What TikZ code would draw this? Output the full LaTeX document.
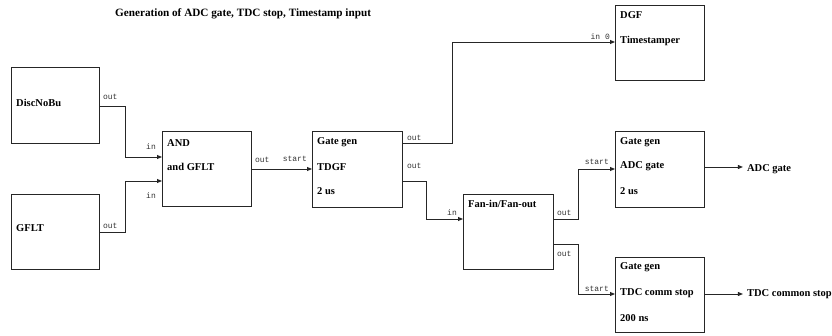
\documentclass[tikz,border=0pt]{standalone}
\usepackage{fontspec}
\setmainfont{Liberation Serif}
\setmonofont{Liberation Mono}
\usetikzlibrary{arrows.meta,calc}
\begin{document}
\begin{tikzpicture}[x=1pt,y=-1pt,
  blk/.style={draw=black!85,line width=0.9pt,rectangle,anchor=north west,inner sep=0pt},
  txt/.style={font=\fontsize{10.5}{12}\selectfont\bfseries,anchor=west,inner sep=0pt},
  lab/.style={font=\fontsize{8}{9}\selectfont\ttfamily,inner sep=0pt,text=black!80},
  wire/.style={draw=black!85,line width=0.9pt},
  arr/.style={wire,-{Triangle[length=5pt,width=4pt]}}]
\useasboundingbox (0,0) rectangle (832,336);
% title
\node[txt,font=\fontsize{11.2}{13}\selectfont\bfseries] (title) at (115,14) {Generation of ADC gate, TDC stop, Timestamp input};
% boxes
\node[blk,minimum width=88pt,minimum height=76pt] (disc) at (11,67) {};
\node[blk,minimum width=88pt,minimum height=75pt] (gflt) at (11,194) {};
\node[blk,minimum width=89pt,minimum height=75pt] (and) at (162,131) {};
\node[blk,minimum width=90pt,minimum height=76pt] (tdgf) at (312,131) {};
\node[blk,minimum width=89pt,minimum height=75pt] (dgf) at (615,5) {};
\node[blk,minimum width=90pt,minimum height=75pt] (fan) at (463,194) {};
\node[blk,minimum width=89pt,minimum height=76pt] (adc) at (615,131) {};
\node[blk,minimum width=89pt,minimum height=75pt] (tdc) at (615,257) {};
% box texts
\node[txt] (disc-t) at ($(disc.north west)+(5,36)$) {DiscNoBu};
\node[txt] (gflt-t) at ($(gflt.north west)+(5,34)$) {GFLT};
\node[txt] (and-t1) at ($(and.north west)+(5,12)$) {AND};
\node[txt] (and-t2) at ($(and.north west)+(5,36)$) {and GFLT};
\node[txt] (tdgf-t1) at ($(tdgf.north west)+(5,11)$) {Gate gen};
\node[txt] (tdgf-t2) at ($(tdgf.north west)+(5,36)$) {TDGF};
\node[txt] (tdgf-t3) at ($(tdgf.north west)+(5,60)$) {2 us};
\node[txt] (dgf-t1) at ($(dgf.north west)+(5,10)$) {DGF};
\node[txt] (dgf-t2) at ($(dgf.north west)+(5,36)$) {Timestamper};
\node[txt] (fan-t) at ($(fan.north west)+(5,10)$) {Fan-in/Fan-out};
\node[txt] (adc-t1) at ($(adc.north west)+(5,11)$) {Gate gen};
\node[txt] (adc-t2) at ($(adc.north west)+(5,35)$) {ADC gate};
\node[txt] (adc-t3) at ($(adc.north west)+(5,60)$) {2 us};
\node[txt] (tdc-t1) at ($(tdc.north west)+(5,10)$) {Gate gen};
\node[txt] (tdc-t2) at ($(tdc.north west)+(5,36)$) {TDC comm stop};
\node[txt] (tdc-t3) at ($(tdc.north west)+(5,61)$) {200 ns};
% ports
\coordinate (disc-o) at ($(disc.north east)+(0,39)$);
\coordinate (gflt-o) at ($(gflt.north east)+(0,38)$);
\coordinate (and-i1) at ($(and.north west)+(0,26)$);
\coordinate (and-i2) at ($(and.north west)+(0,50)$);
\coordinate (and-o) at ($(and.north east)+(0,38)$);
\coordinate (tdgf-i) at ($(tdgf.north west)+(0,38)$);
\coordinate (tdgf-o1) at ($(tdgf.north east)+(0,12)$);
\coordinate (tdgf-o2) at ($(tdgf.north east)+(0,50)$);
\coordinate (dgf-i) at ($(dgf.north west)+(0,37)$);
\coordinate (fan-i) at ($(fan.north west)+(0,25)$);
\coordinate (fan-o1) at ($(fan.north east)+(0,25)$);
\coordinate (fan-o2) at ($(fan.north east)+(0,50)$);
\coordinate (adc-i) at ($(adc.north west)+(0,38)$);
\coordinate (adc-o) at ($(adc.north east)+(0,36)$);
\coordinate (tdc-i) at ($(tdc.north west)+(0,37)$);
\coordinate (tdc-o) at ($(tdc.north east)+(0,37)$);
\coordinate (adc-end) at ($(adc-o)+(38,0)$);
\coordinate (tdc-end) at ($(tdc-o)+(38,0)$);
% connectors
\draw[arr] (disc-o) -- ++(26,0) |- (and-i1);
\draw[arr] (gflt-o) -- ++(26,0) |- (and-i2);
\draw[arr] (and-o) -- (tdgf-i);
\draw[arr] (tdgf-o1) -- ++(50,0) |- (dgf-i);
\draw[arr] (tdgf-o2) -- ++(24,0) |- (fan-i);
\draw[arr] (fan-o1) -- ++(25,0) |- (adc-i);
\draw[arr] (fan-o2) -- ++(25,0) |- (tdc-i);
\draw[arr] (adc-o) -- (adc-end);
\draw[arr] (tdc-o) -- (tdc-end);
\node[txt] (adc-out) at ($(adc-end)+(4,2)$) {ADC gate};
\node[txt] (tdc-out) at ($(tdc-end)+(4,0)$) {TDC common stop};
% port labels
\node[lab,anchor=west] (l1) at ($(disc-o)+(3,-9)$) {out};
\node[lab,anchor=west] (l2) at ($(gflt-o)+(3,-6)$) {out};
\node[lab,anchor=east] (l3) at ($(and-i1)+(-6,-10)$) {in};
\node[lab,anchor=east] (l4) at ($(and-i2)+(-6,15)$) {in};
\node[lab,anchor=west] (l5) at ($(and-o)+(3,-9)$) {out};
\node[lab,anchor=east] (l6) at ($(tdgf-i)+(-5,-10)$) {start};
\node[lab,anchor=west] (l7) at ($(tdgf-o1)+(4,-5)$) {out};
\node[lab,anchor=west] (l8) at ($(tdgf-o2)+(4,-15)$) {out};
\node[lab,anchor=east] (l9) at ($(dgf-i)+(-5,-5)$) {in 0};
\node[lab,anchor=east] (l10) at ($(fan-i)+(-6,-6)$) {in};
\node[lab,anchor=west] (l11) at ($(fan-o1)+(3,-6)$) {out};
\node[lab,anchor=west] (l12) at ($(fan-o2)+(3,10)$) {out};
\node[lab,anchor=east] (l13) at ($(adc-i)+(-6,-7)$) {start};
\node[lab,anchor=east] (l14) at ($(tdc-i)+(-6,-5)$) {start};
\end{tikzpicture}
\end{document}
